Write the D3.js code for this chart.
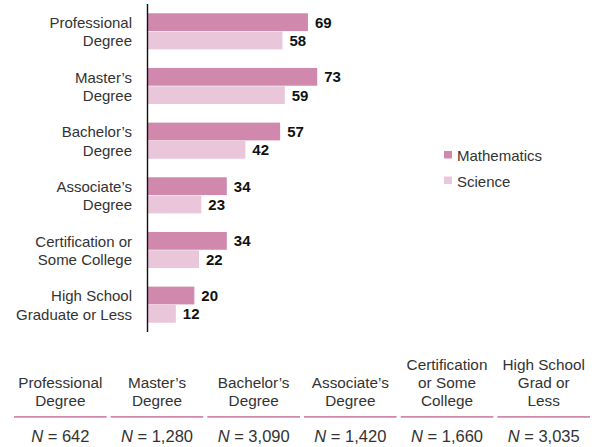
<!DOCTYPE html>
<html>
<head>
<meta charset="utf-8">
<script src="https://cdn.jsdelivr.net/npm/d3@7"></script>
<style>
  html, body { margin: 0; padding: 0; background: #fff; }
  svg { display: block; font-family: "Liberation Sans", Arial, Helvetica, sans-serif; }
</style>
</head>
<body>
<svg id="chart" width="594" height="447"></svg>
<script>
// Education levels (bar rows), each label split across two lines
const categories = ["Professional Degree", "Master's Degree", "Bachelor's Degree",
  "Associate's Degree", "Certification or Some College", "High School Graduate or Less"];
const categoryLines = [
  ["Professional", "Degree"],
  ["Master\u2019s", "Degree"],
  ["Bachelor\u2019s", "Degree"],
  ["Associate\u2019s", "Degree"],
  ["Certification or", "Some College"],
  ["High School", "Graduate or Less"]
];
const seriesNames = ["Mathematics", "Science"];
const mathValues = [69, 73, 57, 34, 34, 20];
const scienceValues = [58, 59, 42, 23, 22, 12];

// Sample-size table below the chart
const tableHeaders = [
  ["Professional", "Degree"],
  ["Master\u2019s", "Degree"],
  ["Bachelor\u2019s", "Degree"],
  ["Associate\u2019s", "Degree"],
  ["Certification", "or Some", "College"],
  ["High School", "Grad or", "Less"]
];
const sampleSizes = [642, 1280, 3090, 1420, 1660, 3035];

const colors = { Mathematics: "#d088ad", Science: "#e9c6da" };
const labelColor = "#333";

const svg = d3.select("#chart");

const x = d3.scaleLinear().domain([0, 100]).range([148, 379.8]);
const y = d3.scaleBand().domain(categories).range([4, 332])
  .paddingInner(0.34).paddingOuter(0.17);
const ySub = d3.scaleBand().domain(seriesNames).range([0, y.bandwidth()]).paddingInner(0.03);

const rows = categories.map((c, i) => ({
  cat: c, lines: categoryLines[i],
  vals: [
    { series: "Mathematics", value: mathValues[i] },
    { series: "Science", value: scienceValues[i] }
  ]
}));

const g = svg.selectAll("g.row").data(rows).join("g")
  .attr("class", "row")
  .attr("transform", d => `translate(0,${y(d.cat)})`);

g.selectAll("rect").data(d => d.vals).join("rect")
  .attr("x", x(0))
  .attr("y", d => ySub(d.series))
  .attr("width", d => x(d.value) - x(0))
  .attr("height", ySub.bandwidth())
  .attr("fill", d => colors[d.series]);

g.selectAll("text.val").data(d => d.vals).join("text")
  .attr("class", "val")
  .attr("x", d => x(d.value) + 7)
  .attr("y", d => ySub(d.series) + ySub.bandwidth() / 2)
  .attr("dy", "0.36em")
  .attr("font-size", 15)
  .attr("font-weight", "bold")
  .attr("fill", "#111")
  .text(d => d.value);

// Category labels to the left of the axis
const mid = y.bandwidth() / 2;
g.append("text")
  .attr("text-anchor", "end")
  .attr("font-size", 15)
  .attr("fill", labelColor)
  .selectAll("tspan").data(d => d.lines).join("tspan")
  .attr("x", 132)
  .attr("y", (d, i) => mid - 3.2 + i * 18.3)
  .text(d => d);

// Vertical axis line
svg.append("line")
  .attr("x1", 147.5).attr("x2", 147.5)
  .attr("y1", 4).attr("y2", 332)
  .attr("stroke", "#111").attr("stroke-width", 1.4);

// Legend
const legend = svg.append("g");
seriesNames.forEach((s, i) => {
  legend.append("rect")
    .attr("x", 444).attr("y", 151 + i * 25.5)
    .attr("width", 8).attr("height", 7.5)
    .attr("fill", colors[s]);
  legend.append("text")
    .attr("x", 457).attr("y", 161 + i * 25.5)
    .attr("font-size", 15)
    .attr("fill", labelColor)
    .text(s);
});

// Table of sample sizes
const colX = d3.scaleBand().domain(d3.range(tableHeaders.length)).range([14, 590]).paddingInner(0.0417);
const fmt = d3.format(",");
const cols = svg.selectAll("g.col").data(tableHeaders).join("g")
  .attr("class", "col")
  .attr("transform", (d, i) => `translate(${colX(i)},0)`);

cols.append("text")
  .attr("text-anchor", "middle")
  .attr("font-size", 15.3)
  .attr("fill", labelColor)
  .selectAll("tspan").data(d => d).join("tspan")
  .attr("x", colX.bandwidth() / 2)
  .attr("y", (d, i, nodes) => 405.5 - (nodes.length - 1 - i) * 18)
  .text(d => d);

cols.append("line")
  .attr("x1", 0).attr("x2", colX.bandwidth())
  .attr("y1", 416.8).attr("y2", 416.8)
  .attr("stroke", colors.Mathematics).attr("stroke-width", 1.8);

const nText = cols.append("text")
  .attr("text-anchor", "middle")
  .attr("x", colX.bandwidth() / 2)
  .attr("y", 441.5)
  .attr("font-size", 16.5)
  .attr("fill", labelColor);
nText.append("tspan").attr("font-style", "italic").text("N");
nText.append("tspan").text((d, i) => " = " + fmt(sampleSizes[i]));
</script>
</body>
</html>
